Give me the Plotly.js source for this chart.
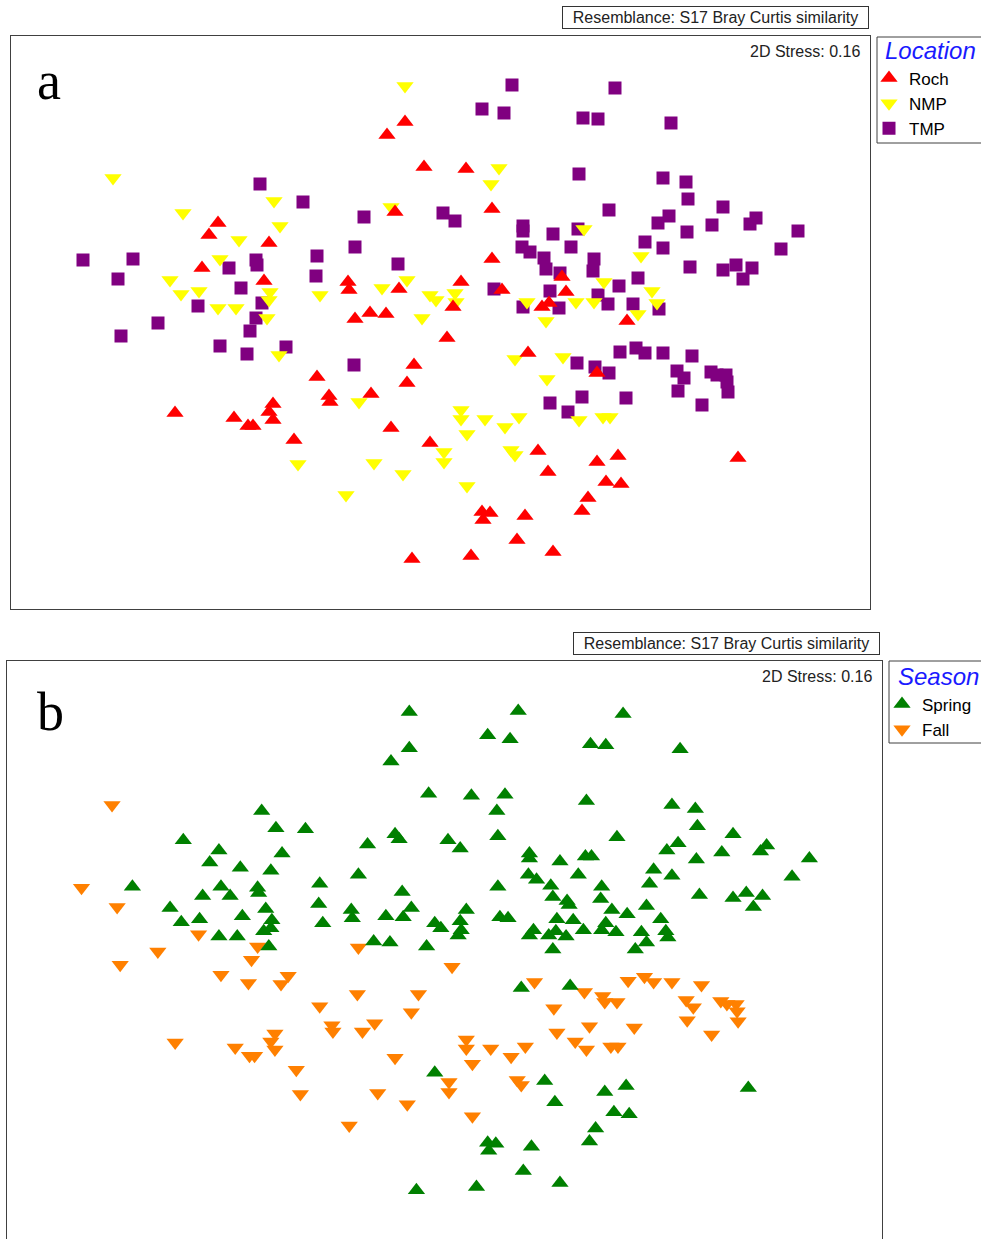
<!DOCTYPE html>
<html><head><meta charset="utf-8">
<script src="https://cdn.plot.ly/plotly-3.0.1.min.js"></script>
<style>html,body{margin:0;padding:0;overflow:hidden;background:#fff}#chart{width:981px;height:1245px}</style>
</head><body><div id="chart"></div><script>
// nMDS scores (arbitrary units, MDS2 increasing downward)
const rochX=[405,387,424,466,395,492,218,209,269,202, 492,264,348,349,399,461,562,502,566,542, 549,453,355,370,386,627,447,528,414,597, 407,317,329,330,371,175,234,248,253,273, 269,273,391,294,430,538,548,597,618,606, 621,588,582,738,482,490,483,525,517,553,471,412];
const rochY=[122,135,167,169,212,209,223,235,243,268, 259,281,282,290,289,282,277,290,292,307, 303,307,319,313,314,321,338,353,365,373, 383,377,396,402,394,413,418,426,426,404, 412,420,428,440,443,451,472,462,456,482, 484,498,511,458,512,513,520,516,540,552,556,559];
const rochSeason=["S","S","S","S","S","S","S","S","S","S", "S","S","S","S","S","S","S","S","S","S", "S","S","F","S","S","S","F","F","F","F", "F","F","F","F","F","F","F","F","F","F", "F","F","F","F","S","S","S","S","S","S", "S","S","S","S","S","S","S","S","S","S","S","S"];

const nmpX=[405,113,499,491,274,183,391,280,239,584, 220,641,170,181,199,270,269,320,382,407, 430,436,455,456,604,652,657,527,576,594, 638,546,218,236,267,422,279,515,563,547, 359,461,461,485,467,505,519,579,603,610, 511,515,444,444,467,298,374,403,346];
const nmpY=[86,178,168,184,201,213,207,226,240,229, 259,256,280,294,291,292,300,295,288,280, 295,300,293,302,282,291,303,302,302,302, 314,321,308,308,318,318,355,359,357,379, 402,410,419,419,434,427,417,420,417,417, 450,455,452,462,486,464,463,474,495];
const nmpSeason=["S","F","S","S","S","S","S","S","S","S", "S","S","S","S","S","S","S","S","S","S", "S","S","S","S","S","S","S","S","S","S", "S","S","S","S","S","S","F","S","S","F", "F","F","F","F","F","F","F","F","F","F", "F","F","F","F","F","F","F","F","F"];

const tmpX=[512,615,482,504,583,598,671,579,663,686, 688,260,303,364,443,455,609,723,669,658, 756,750,712,687,798,523,523,553,578,645, 663,781,571,522,530,355,317,83,133,256, 257,229,398,544,546,594,593,690,723,736, 752,743,560,118,316,241,262,494,550,619, 638,659,633,598,608,523,559,198,158,256, 250,121,220,247,286,354,577,595,609,620, 636,645,663,692,677,684,678,711,717,726, 727,728,702,626,550,568,582];
const tmpY=[85,88,109,113,118,119,123,174,178,182, 199,184,202,217,213,221,210,207,216,223, 218,224,225,232,231,226,231,234,229,242, 248,249,247,247,252,247,256,260,259,260, 265,268,264,258,269,259,271,267,270,265, 268,279,273,279,276,288,303,289,291,286, 278,309,304,295,304,307,308,306,323,318, 331,336,346,354,347,365,363,367,373,352, 348,353,353,356,371,378,391,372,375,375, 382,392,405,398,403,412,397];
const tmpSeason=["S","S","S","S","S","S","S","S","S","S", "S","S","S","S","S","S","S","S","S","S", "S","S","S","S","S","S","S","S","S","S", "S","S","S","S","S","S","S","F","S","S", "S","S","S","S","S","S","S","S","S","S", "S","S","S","F","S","S","S","S","S","S", "S","S","S","S","S","S","S","F","F","F", "F","F","F","F","F","F","F","F","F","F", "F","F","F","F","F","F","F","F","F","F", "F","F","F","F","F","F","F"];

const locationNames=["Roch","NMP","TMP"];
const seasonNames=["Spring","Fall"];
const resemblanceText="Resemblance: S17 Bray Curtis similarity";
const stressText="2D Stress: 0.16";

// split samples by season for panel b
const springX=[],springY=[],fallX=[],fallY=[];
[[rochX,rochY,rochSeason],[nmpX,nmpY,nmpSeason],[tmpX,tmpY,tmpSeason]].forEach(([xs,ys,ss])=>{
  xs.forEach((v,i)=>{ if(ss[i]==="S"){springX.push(v);springY.push(ys[i]);} else {fallX.push(v);fallY.push(ys[i]);} });
});

const W=981,H=1245;
const px=x=>x/W, py=y=>1-y/H;
const FONT="Liberation Sans, Arial, sans-serif";

const traces=[
  {x:tmpX,y:tmpY,name:locationNames[2],type:"scatter",mode:"markers",xaxis:"x",yaxis:"y",legend:"legend",legendrank:3,
   marker:{symbol:"square",size:13,color:"#800080",line:{width:0}}},
  {x:nmpX,y:nmpY,name:locationNames[1],type:"scatter",mode:"markers",xaxis:"x",yaxis:"y",legend:"legend",legendrank:2,
   marker:{symbol:"triangle-down",size:15,color:"#ffff00",line:{width:0}}},
  {x:rochX,y:rochY,name:locationNames[0],type:"scatter",mode:"markers",xaxis:"x",yaxis:"y",legend:"legend",legendrank:1,
   marker:{symbol:"triangle-up",size:15,color:"#ff0000",line:{width:0}}},
  {x:fallX,y:fallY,name:seasonNames[1],type:"scatter",mode:"markers",xaxis:"x2",yaxis:"y2",legend:"legend2",legendrank:2,
   marker:{symbol:"triangle-down",size:15,color:"#ff8000",line:{width:0}}},
  {x:springX,y:springY,name:seasonNames[0],type:"scatter",mode:"markers",xaxis:"x2",yaxis:"y2",legend:"legend2",legendrank:1,
   marker:{symbol:"triangle-up",size:15,color:"#008000",line:{width:0}}}
];

const ax={showline:true,mirror:true,linecolor:"#404040",linewidth:1,showgrid:false,zeroline:false,showticklabels:false,ticks:"",fixedrange:true};
const legendBase={bgcolor:"rgba(0,0,0,0)",borderwidth:0,font:{family:FONT,size:17,color:"#000"},xanchor:"left",yanchor:"top",traceorder:"normal",itemsizing:"trace"};

const layout={
  width:W,height:H,margin:{l:0,r:0,t:0,b:0},paper_bgcolor:"#fff",plot_bgcolor:"#fff",
  showlegend:true,
  xaxis:Object.assign({},ax,{domain:[px(11),px(870)],range:[11,870],anchor:"y"}),
  yaxis:Object.assign({},ax,{domain:[py(609),py(36)],range:[609,36],anchor:"x"}),
  xaxis2:Object.assign({},ax,{domain:[px(7),px(882)],range:[9.82,869.35],anchor:"y2"}),
  yaxis2:Object.assign({},ax,{domain:[py(1241),py(661)],range:[609.3,35.61],anchor:"x2"}),
  legend:Object.assign({},legendBase,{x:px(869),y:py(60.5)}),
  legend2:Object.assign({},legendBase,{x:px(882),y:py(686.5)}),
  shapes:[
    {type:"rect",xref:"paper",yref:"paper",x0:px(877),x1:px(1000),y0:py(143),y1:py(37),line:{color:"#404040",width:1}},
    {type:"rect",xref:"paper",yref:"paper",x0:px(889),x1:px(1000),y0:py(743),y1:py(661),line:{color:"#404040",width:1}}
  ],
  annotations:[
    {text:resemblanceText,xref:"paper",yref:"paper",x:px(715.5),y:py(17.5),xanchor:"center",yanchor:"middle",showarrow:false,
     font:{family:FONT,size:16,color:"#222"},bordercolor:"#333",borderwidth:1,borderpad:1,width:303,height:19,bgcolor:"#fff"},
    {text:resemblanceText,xref:"paper",yref:"paper",x:px(726.5),y:py(643.5),xanchor:"center",yanchor:"middle",showarrow:false,
     font:{family:FONT,size:16,color:"#222"},bordercolor:"#333",borderwidth:1,borderpad:1,width:303,height:19,bgcolor:"#fff"},
    {text:stressText,xref:"paper",yref:"paper",x:px(862),y:py(51),xanchor:"right",yanchor:"middle",showarrow:false,
     font:{family:FONT,size:16,color:"#222"}},
    {text:stressText,xref:"paper",yref:"paper",x:px(874),y:py(677),xanchor:"right",yanchor:"middle",showarrow:false,
     font:{family:FONT,size:16,color:"#222"}},
    {text:"a",xref:"paper",yref:"paper",x:px(49),y:py(81),xanchor:"center",yanchor:"middle",showarrow:false,
     font:{family:"Liberation Serif, Times New Roman, serif",size:54,color:"#000"}},
    {text:"b",xref:"paper",yref:"paper",x:px(50),y:py(712),xanchor:"center",yanchor:"middle",showarrow:false,
     font:{family:"Liberation Serif, Times New Roman, serif",size:54,color:"#000"}},
    {text:"Location",xref:"paper",yref:"paper",x:px(883),y:py(50),xanchor:"left",yanchor:"middle",showarrow:false,
     font:{family:FONT,size:24,color:"#1a1aff",style:"italic"}},
    {text:"Season",xref:"paper",yref:"paper",x:px(896),y:py(676),xanchor:"left",yanchor:"middle",showarrow:false,
     font:{family:FONT,size:24,color:"#1a1aff",style:"italic"}}
  ]
};

Plotly.newPlot("chart",traces,layout,{displayModeBar:false,staticPlot:true});
</script></body></html>
